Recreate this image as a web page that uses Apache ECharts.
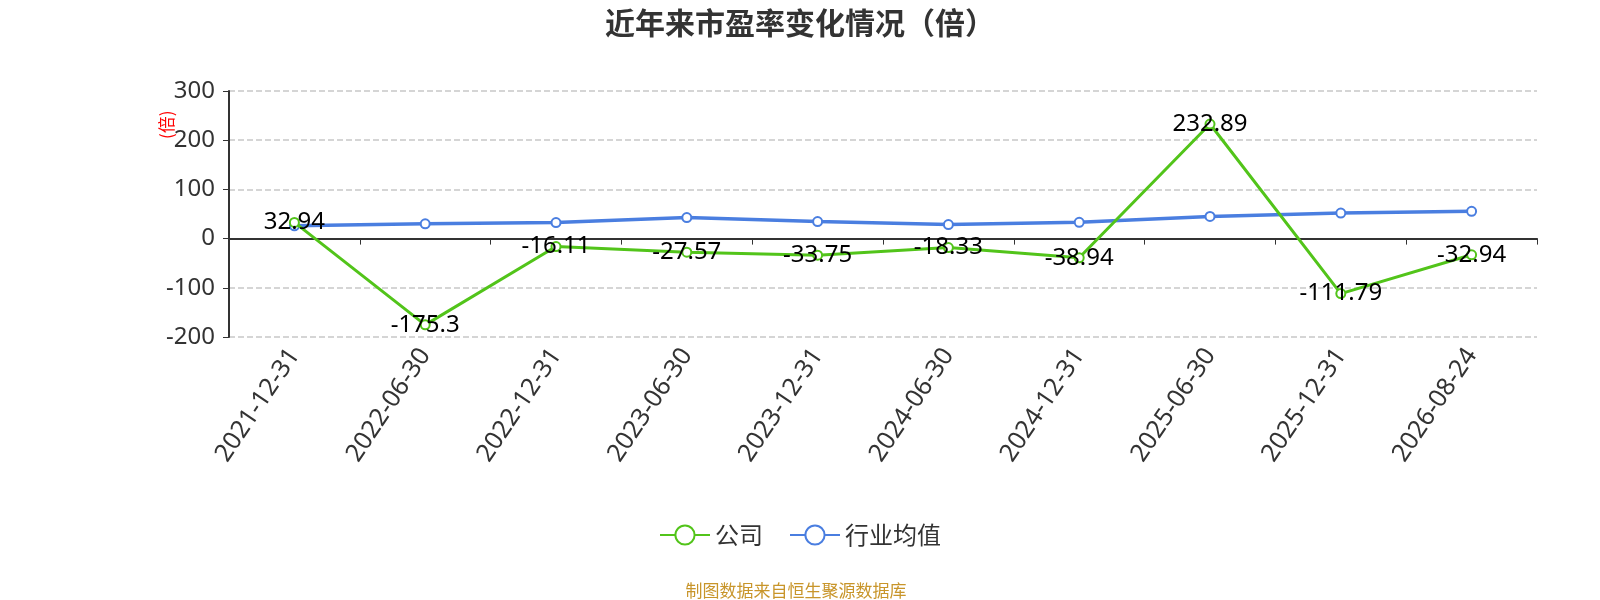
<!DOCTYPE html>
<html>
<head>
<meta charset="utf-8">
<script src="https://cdn.jsdelivr.net/npm/echarts@6/dist/echarts.min.js"></script>
<style>
	html, body { margin: 0; padding: 0; background: #fff; }
	#chart { width: 1600px; height: 600px; }
</style>
</head>
<body>
<div id="chart"></div>
<script>
const categories = ['2021-12-31', '2022-06-30', '2022-12-31', '2023-06-30', '2023-12-31', '2024-06-30', '2024-12-31', '2025-06-30', '2025-12-31', '2026-08-24']
const companyPE = [32.94, -175.3, -16.11, -27.57, -33.75, -18.33, -38.94, 232.89, -111.79, -32.94]
const industryPE = [26, 30, 32.5, 42.7, 34.6, 28.5, 33, 45, 52, 55.5]

const chart = echarts.init(document.getElementById('chart'))
const cjk = '"Noto Sans CJK SC", sans-serif'
const latin = '"Noto Sans", "Noto Sans CJK SC", sans-serif'

chart.setOption({
	animation: false,
	textStyle: { fontFamily: cjk },
	title: [
		{
			text: '近年来市盈率变化情况（倍）',
			left: 'center',
			top: 3,
			textStyle: { fontSize: 30, fontWeight: 'bold', color: '#333', fontFamily: cjk },
		},
		{
			text: '制图数据来自恒生聚源数据库',
			left: 791,
			textAlign: 'center',
			top: 577,
			textStyle: { fontSize: 17, fontWeight: 'normal', color: '#c8952a', fontFamily: cjk },
		},
	],
	legend: {
		top: 518,
		left: 'center',
		itemWidth: 50,
		itemHeight: 24,
		itemGap: 26,
		textStyle: { fontSize: 24, color: '#333', fontFamily: cjk },
		data: ['公司', '行业均值'],
	},
	grid: { left: 229, right: 63, top: 91, bottom: 263 },
	xAxis: [
		{
			type: 'category',
			data: categories,
			axisLine: { onZero: true, lineStyle: { color: '#333', width: 2 } },
			axisTick: { show: true, length: 6, lineStyle: { color: '#333' } },
			axisLabel: { show: false },
		},
		{
			type: 'category',
			data: categories,
			position: 'bottom',
			axisLine: { show: false, onZero: false },
			axisTick: { show: false },
			axisLabel: { rotate: 56, fontSize: 25, color: '#333', margin: 14, fontFamily: latin },
		},
	],
	yAxis: {
		type: 'value',
		min: -200,
		max: 300,
		interval: 100,
		axisLine: { show: true, lineStyle: { color: '#333', width: 2 } },
		axisTick: { show: true, length: 6, lineStyle: { color: '#333' } },
		axisLabel: { fontSize: 24, color: '#333', margin: 14, fontFamily: latin },
		splitLine: { lineStyle: { type: 'dashed', color: '#c8c8c8', width: 1.5 } },
	},
	graphic: [
		{
			type: 'text',
			x: 158,
			y: 139,
			rotation: Math.PI / 2,
			style: { text: '(倍)', fill: '#ff0000', font: '17px ' + cjk },
		},
	],
	series: [
		{
			name: '公司',
			type: 'line',
			data: companyPE,
			symbol: 'emptyCircle',
			symbolSize: 9,
			itemStyle: { color: '#52c41a' },
			lineStyle: { width: 3, color: '#52c41a' },
			label: { show: true, position: 'inside', fontSize: 24, color: '#000', fontFamily: latin },
			z: 3,
		},
		{
			name: '行业均值',
			type: 'line',
			data: industryPE,
			symbol: 'emptyCircle',
			symbolSize: 9,
			itemStyle: { color: '#4a7ee0' },
			lineStyle: { width: 3.5, color: '#4a7ee0' },
			z: 2,
		},
	],
})
</script>
</body>
</html>
